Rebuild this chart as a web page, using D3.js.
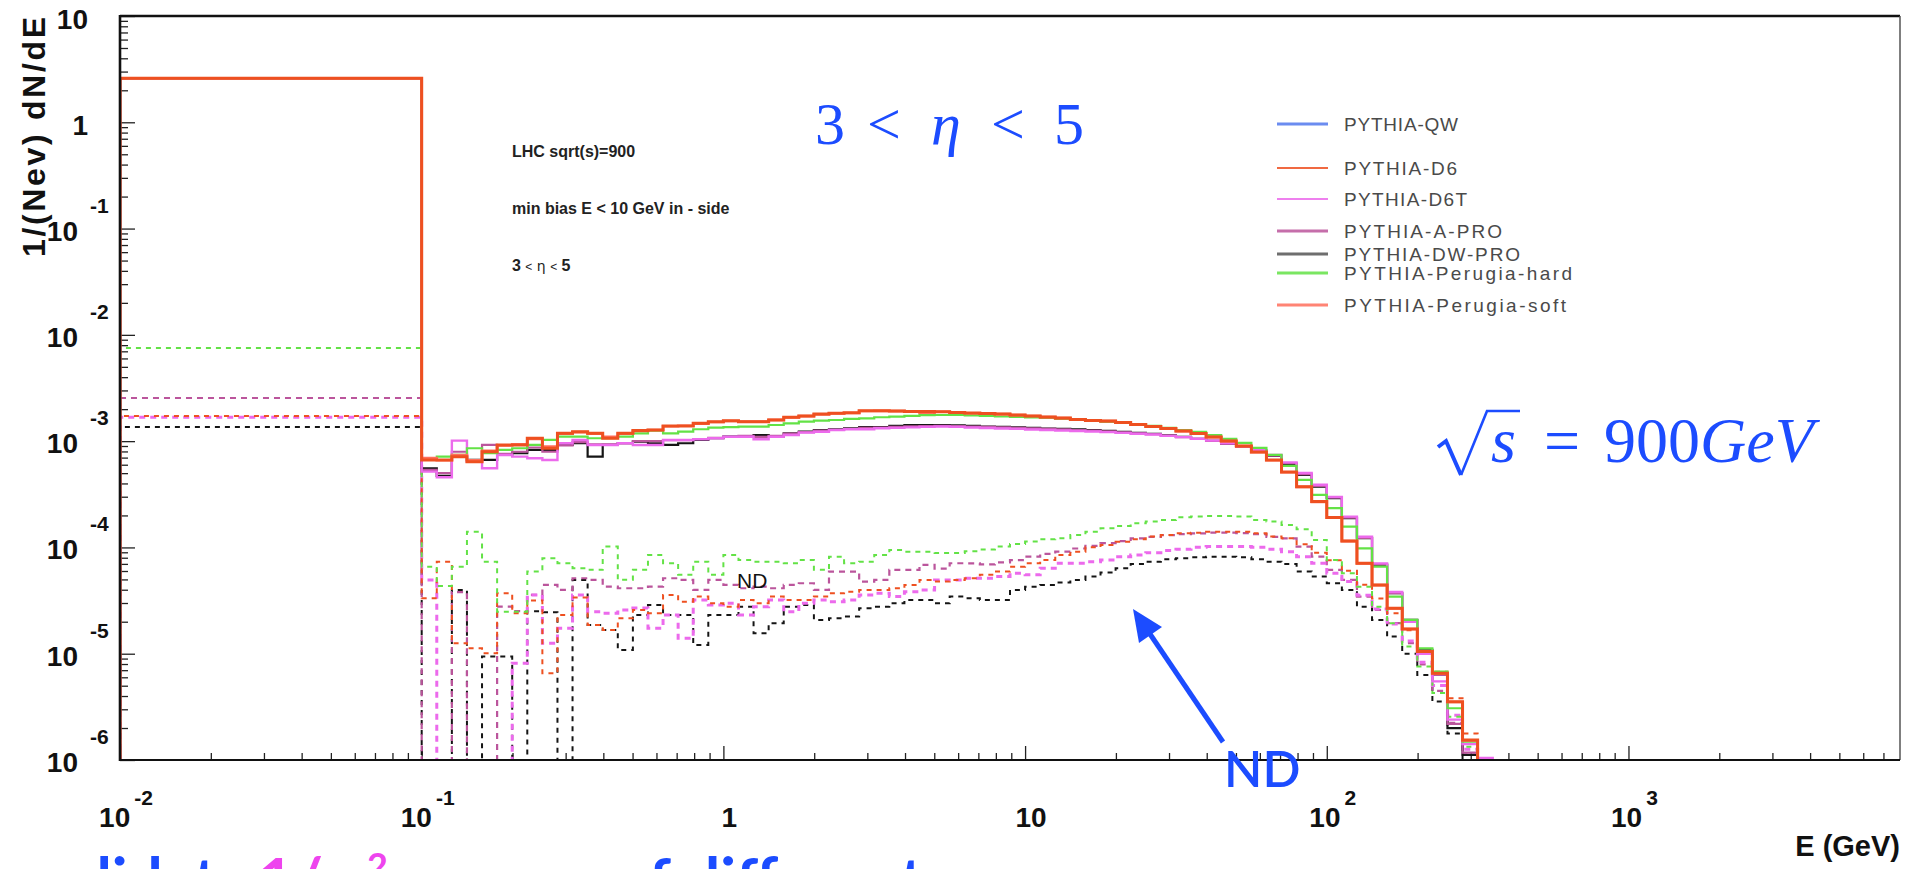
<!DOCTYPE html>
<html><head><meta charset="utf-8">
<script src="https://cdn.jsdelivr.net/npm/d3@7"></script>
<style>
html,body{margin:0;padding:0;background:#fff;}
svg{display:block;}
</style></head><body>
<svg id="chart" width="1910" height="869"></svg>
<script>
// ---------------- DATA ----------------
// bin edges, log10(E / GeV): one wide bin 0.01-0.1, then 20 bins per decade
const binEdgesLog10 = [-2,-1,-0.95,-0.9,-0.85,-0.8,-0.75,-0.7,-0.65,-0.6,-0.55,-0.5,-0.45,-0.4,-0.35,-0.3,-0.25,-0.2,-0.15,-0.1,-0.05,0,0.05,0.1,0.15,0.2,0.25,0.3,0.35,0.4,0.45,0.5,0.55,0.6,0.65,0.7,0.75,0.8,0.85,0.9,0.95,1,1.05,1.1,1.15,1.2,1.25,1.3,1.35,1.4,1.45,1.5,1.55,1.6,1.65,1.7,1.75,1.8,1.85,1.9,1.95,2,2.05,2.1,2.15,2.2,2.25,2.3,2.35,2.4,2.45,2.5,2.55];

// values: log10 of 1/(Nev) dN/dE per bin (null = empty bin)
// min-bias (solid)
const mb_D6 = [0.415,
 -3.177,-3.177,-3.146,-3.193,-3.099,-3.036,-3.036,-2.973,-3.067,-2.926,
 -2.911,-2.926,-2.973,-2.926,-2.901,-2.895,-2.857,-2.857,-2.832,-2.817,
 -2.807,-2.817,-2.817,-2.801,-2.775,-2.763,-2.744,-2.738,-2.732,-2.713,
 -2.713,-2.716,-2.720,-2.722,-2.724,-2.730,-2.735,-2.739,-2.744,-2.754,
 -2.763,-2.773,-2.782,-2.796,-2.805,-2.810,-2.824,-2.843,-2.862,-2.881,
 -2.904,-2.928,-2.960,-2.998,-3.045,-3.102,-3.177,-3.290,-3.428,-3.569,
 -3.718,-3.939,-4.149,-4.353,-4.572,-4.767,-4.980,-5.183,-5.451,-5.811,
 null];
const mb_PerugiaSoft = [0.415,
 -3.160,-3.180,-3.130,-3.180,-3.090,-3.040,-3.030,-2.980,-3.050,-2.930,
 -2.915,-2.930,-2.960,-2.930,-2.905,-2.895,-2.860,-2.855,-2.835,-2.820,
 -2.810,-2.815,-2.815,-2.800,-2.778,-2.765,-2.748,-2.740,-2.735,-2.716,
 -2.715,-2.718,-2.724,-2.733,-2.724,-2.731,-2.737,-2.741,-2.746,-2.755,
 -2.764,-2.774,-2.783,-2.797,-2.806,-2.812,-2.826,-2.845,-2.864,-2.883,
 -2.906,-2.930,-2.962,-3.000,-3.047,-3.105,-3.180,-3.293,-3.430,-3.571,
 -3.720,-3.941,-4.150,-4.355,-4.574,-4.768,-4.982,-5.185,-5.455,-5.815,
 null];
const mb_DWPRO = [0.415,
 -3.255,-3.327,-3.146,-3.177,-3.177,-3.130,-3.114,-3.083,-3.083,-3.036,
 -3.020,-3.146,-3.036,-3.020,-3.005,-3.020,-3.036,-3.020,-2.989,-2.973,
 -2.958,-2.958,-2.942,-2.958,-2.926,-2.911,-2.895,-2.888,-2.879,-2.869,
 -2.869,-2.857,-2.848,-2.848,-2.848,-2.852,-2.857,-2.862,-2.866,-2.871,
 -2.876,-2.881,-2.885,-2.890,-2.895,-2.904,-2.913,-2.923,-2.932,-2.946,
 -2.960,-2.979,-2.998,-3.026,-3.055,-3.092,-3.139,-3.214,-3.318,-3.428,
 -3.537,-3.725,-3.913,-4.165,-4.431,-4.682,-4.964,-5.183,-5.701,-5.952,
 null];
const mb_APRO = [0.415,
 -3.270,-3.300,-3.100,-3.190,-3.036,-3.120,-3.100,-3.060,-3.100,-3.040,
 -3.010,-3.030,-3.030,-3.020,-3.000,-3.000,-2.990,-2.990,-2.980,-2.970,
 -2.960,-2.950,-2.960,-2.950,-2.930,-2.915,-2.900,-2.893,-2.885,-2.875,
 -2.872,-2.865,-2.860,-2.858,-2.855,-2.858,-2.862,-2.866,-2.871,-2.876,
 -2.880,-2.885,-2.890,-2.895,-2.900,-2.908,-2.917,-2.926,-2.935,-2.948,
 -2.962,-2.980,-2.998,-3.024,-3.052,-3.088,-3.135,-3.208,-3.310,-3.420,
 -3.530,-3.720,-3.910,-4.160,-4.430,-4.690,-4.970,-5.200,-5.660,-5.930,
 null];
const mb_D6T = [0.415,
 -3.287,-3.340,-2.995,-3.193,-3.255,-3.130,-3.146,-3.161,-3.177,-3.020,
 -2.989,-3.036,-3.036,-3.020,-3.036,-3.036,-2.989,-2.989,-2.982,-2.973,
 -2.958,-2.958,-2.982,-2.958,-2.942,-2.920,-2.911,-2.895,-2.888,-2.888,
 -2.879,-2.875,-2.870,-2.866,-2.862,-2.866,-2.871,-2.876,-2.881,-2.885,
 -2.890,-2.895,-2.900,-2.904,-2.909,-2.915,-2.922,-2.930,-2.938,-2.950,
 -2.962,-2.978,-2.995,-3.020,-3.048,-3.085,-3.130,-3.200,-3.300,-3.410,
 -3.525,-3.710,-3.900,-4.150,-4.420,-4.700,-5.000,-5.260,-5.620,-5.850,
 -5.980];
const mb_PerugiaHard = [0.415,
 -3.161,-3.146,-3.130,-3.067,-3.114,-3.083,-3.067,-3.036,-2.989,-2.958,
 -2.958,-2.973,-2.973,-2.958,-2.926,-2.901,-2.926,-2.911,-2.888,-2.873,
 -2.869,-2.864,-2.864,-2.848,-2.832,-2.817,-2.807,-2.801,-2.791,-2.785,
 -2.775,-2.770,-2.763,-2.756,-2.754,-2.754,-2.758,-2.763,-2.768,-2.773,
 -2.777,-2.782,-2.791,-2.801,-2.810,-2.819,-2.829,-2.843,-2.857,-2.876,
 -2.895,-2.913,-2.942,-2.979,-3.017,-3.064,-3.130,-3.233,-3.365,-3.506,
 -3.631,-3.804,-4.008,-4.181,-4.463,-4.682,-4.949,-5.168,-5.513,-5.827,
 null];

// non-diffractive (dashed)
const nd_PerugiaHard = [-2.123,
 -4.181,-4.362,-4.181,-3.852,-4.134,-4.604,-4.604,-4.227,-4.101,-4.148,
 -4.195,-4.211,-3.992,-4.305,-4.211,-4.071,-4.148,-4.258,-4.134,-4.258,
 -4.071,-4.118,-4.134,-4.134,-4.148,-4.118,-4.211,-4.087,-4.148,-4.134,
 -4.071,-4.024,-4.040,-4.040,-4.052,-4.052,-4.036,-4.020,-3.992,-3.967,
 -3.945,-3.923,-3.914,-3.883,-3.852,-3.820,-3.798,-3.772,-3.757,-3.741,
 -3.716,-3.710,-3.704,-3.704,-3.710,-3.741,-3.757,-3.790,-3.830,-3.930,
 -4.118,-4.243,-4.369,-4.557,-4.713,-4.933,-5.121,-5.370,-5.593,-5.875,
 null];
const nd_D6 = [-2.763,
 -4.478,-4.134,-4.901,-4.948,-4.995,-4.431,-4.619,-4.500,-5.183,-4.635,
 -4.470,-4.730,-4.776,-4.666,-4.588,-4.619,-4.447,-4.510,-4.462,-4.525,
 -4.557,-4.494,-4.525,-4.462,-4.494,-4.494,-4.462,-4.431,-4.416,-4.400,
 -4.400,-4.384,-4.353,-4.306,-4.321,-4.306,-4.290,-4.258,-4.227,-4.181,
 -4.149,-4.118,-4.071,-4.040,-3.999,-3.977,-3.946,-3.924,-3.898,-3.883,
 -3.867,-3.861,-3.852,-3.852,-3.852,-3.867,-3.898,-3.914,-3.970,-4.050,
 -4.120,-4.220,-4.350,-4.480,-4.620,-4.780,-4.970,-5.170,-5.420,-5.750,
 null];
const nd_D6T = [-2.775,
 -4.306,null,null,null,null,null,-5.090,-4.447,-4.901,-4.760,
 -4.447,-4.604,-4.619,-4.588,-4.570,-4.760,-4.635,-4.854,-4.494,-4.541,
 -4.525,-4.635,-4.557,-4.494,-4.604,-4.525,-4.494,-4.510,-4.494,-4.447,
 -4.431,-4.462,-4.416,-4.400,-4.306,-4.306,-4.290,-4.290,-4.274,-4.243,
 -4.258,-4.196,-4.149,-4.149,-4.134,-4.118,-4.087,-4.071,-4.049,-4.030,
 -4.017,-3.999,-3.992,-3.992,-3.992,-3.999,-4.017,-4.040,-4.087,-4.149,
 -4.243,-4.321,-4.450,-4.580,-4.720,-4.880,-5.080,-5.300,-5.580,-5.900,
 null];
const nd_APRO = [-2.594,
 null,null,-4.420,null,null,-4.557,-4.600,-4.447,-4.353,-4.400,
 -4.290,-4.306,-4.369,-4.384,-4.384,-4.369,-4.290,-4.306,-4.400,-4.306,
 -4.353,-4.384,-4.369,-4.384,-4.353,-4.337,-4.400,-4.227,-4.227,-4.321,
 -4.306,-4.211,-4.211,-4.165,-4.200,-4.149,-4.150,-4.160,-4.140,-4.120,
 -4.087,-4.060,-4.040,-4.010,-3.985,-3.960,-3.940,-3.914,-3.900,-3.885,
 -3.874,-3.868,-3.861,-3.861,-3.866,-3.874,-3.900,-3.914,-3.992,-4.087,
 -4.211,-4.306,-4.462,-4.588,-4.713,-4.900,-5.100,-5.350,-5.650,-5.950,
 null];
const nd_DWPRO = [-2.866,
 null,null,-4.400,null,-5.027,-5.027,null,-4.600,-4.610,null,
 -4.306,-4.730,-4.776,-4.964,-4.635,-4.541,-4.635,-4.635,-4.917,-4.635,
 -4.635,-4.557,-4.807,-4.713,-4.557,-4.541,-4.682,-4.666,-4.651,-4.572,
 -4.557,-4.525,-4.494,-4.494,-4.525,-4.462,-4.478,-4.494,-4.494,-4.400,
 -4.369,-4.353,-4.331,-4.306,-4.274,-4.237,-4.196,-4.156,-4.134,-4.112,
 -4.102,-4.093,-4.087,-4.087,-4.093,-4.112,-4.134,-4.156,-4.227,-4.274,
 -4.337,-4.400,-4.557,-4.682,-4.839,-5.000,-5.200,-5.450,-5.750,null,
 null];

const legendNames = ["PYTHIA-QW","PYTHIA-D6","PYTHIA-D6T","PYTHIA-A-PRO","PYTHIA-DW-PRO","PYTHIA-Perugia-hard","PYTHIA-Perugia-soft"];
const xTickBase = ["10","10","1","10","10","10"];
const xTickExp  = ["-2","-1","","","2","3"];
const xTickVals = [1e-2,1e-1,1,10,100,1000];
const yTickBase = ["10","10","10","10","10","10","1","10"];
const yTickExp  = ["-6","-5","-4","-3","-2","-1","",""];
const yTickVals = [1e-6,1e-5,1e-4,1e-3,1e-2,1e-1,1,10];
const infoLines = ["LHC sqrt(s)=900","min bias E < 10 GeV in - side"];

// ---------------- STYLE / LAYOUT ----------------
const colors = {QW:"#5279ee", D6:"#ee5020", D6T:"#ec6aec", APRO:"#bb559c", DWPRO:"#151515", PHard:"#63e246", PSoft:"#ff6f5c"};
const legendColors = [colors.QW, colors.D6, colors.D6T, colors.APRO, "#555555", colors.PHard, colors.PSoft];
const legendWidths = [3,2,2,3,3,3,3];
const legendRowY = [124,168,199,231,254,273,305];
const legendTextLen = [114,113,123,158,176,228,222];
const blue = "#1c4cff";

const svg = d3.select("#chart");
svg.append("rect").attr("width",1910).attr("height",869).attr("fill","#fff");

const x = d3.scaleLog().domain([0.01, Math.pow(10,3.9)]).range([120,1900]);
const y = d3.scaleLog().domain([1e-6, 10]).range([760,16]);
const [X0,X1] = x.range(); const [Y0,Y1] = y.range();

svg.append("defs").append("clipPath").attr("id","plotclip")
  .append("rect").attr("x",X0).attr("y",Y1).attr("width",X1-X0).attr("height",Y0-Y1);

// ---------------- TICKS ----------------
const xMinor = [], yMinor = [];
for (let e=-2; e<=3; e++) for (let m=2; m<=9; m++){ const v=m*Math.pow(10,e); if (v < x.domain()[1]) xMinor.push(v); }
for (let e=-6; e<=0; e++) for (let m=2; m<=9; m++) yMinor.push(m*Math.pow(10,e));

function styleAxis(g){ g.select(".domain").remove(); g.selectAll(".tick line").attr("stroke","#222").attr("stroke-width",1.3); }
svg.append("g").attr("transform",`translate(0,${Y0})`).call(d3.axisBottom(x).tickValues(xMinor).tickSize(-7).tickFormat("")).call(styleAxis);
svg.append("g").attr("transform",`translate(0,${Y0})`).call(d3.axisBottom(x).tickValues(xTickVals).tickSize(-14).tickFormat("")).call(styleAxis);
svg.append("g").attr("transform",`translate(${X0},0)`).call(d3.axisLeft(y).tickValues(yMinor).tickSize(-8).tickFormat("")).call(styleAxis);
svg.append("g").attr("transform",`translate(${X0},0)`).call(d3.axisLeft(y).tickValues(yTickVals).tickSize(-15).tickFormat("")).call(styleAxis);

// ---------------- HISTOGRAMS ----------------
const plot = svg.append("g").attr("clip-path","url(#plotclip)");
function stepPath(vals){
  const yb = Y0 + 12;
  const yv = v => v === null ? yb : y(Math.pow(10, v));
  let d = `M${x(Math.pow(10,binEdgesLog10[0]))},${yb}`;
  vals.forEach((v,i)=>{
    const xa = x(Math.pow(10,binEdgesLog10[i])), xb = x(Math.pow(10,binEdgesLog10[i+1]));
    const yy = yv(v);
    d += `L${xa},${yy}L${xb},${yy}`;
  });
  d += `L${x(Math.pow(10,binEdgesLog10[vals.length]))},${yb}`;
  return d;
}
const dashedSeries = [
  {vals:nd_DWPRO, color:colors.DWPRO, w:2, dash:"5,5"},
  {vals:nd_APRO, color:colors.APRO, w:2.2, dash:"6,5"},
  {vals:nd_D6T, color:colors.D6T, w:3, dash:"6,5"},
  {vals:nd_D6, color:colors.D6, w:2, dash:"5,5"},
  {vals:nd_PerugiaHard, color:colors.PHard, w:2, dash:"5,5"}
];
const solidSeries = [
  {vals:mb_DWPRO, color:colors.DWPRO, w:2.2},
  {vals:mb_APRO, color:colors.APRO, w:2.2},
  {vals:mb_D6T, color:colors.D6T, w:2.4},
  {vals:mb_PerugiaHard, color:colors.PHard, w:2.2},
  {vals:mb_PerugiaSoft, color:colors.PSoft, w:2.6},
  {vals:mb_D6, color:colors.D6, w:3}
];
plot.selectAll("path.nd").data(dashedSeries).join("path").attr("class","nd")
  .attr("d",s=>stepPath(s.vals)).attr("fill","none").attr("stroke",s=>s.color)
  .attr("stroke-width",s=>s.w).attr("stroke-dasharray",s=>s.dash).attr("stroke-linejoin","miter");
plot.selectAll("path.mb").data(solidSeries).join("path").attr("class","mb")
  .attr("d",s=>stepPath(s.vals)).attr("fill","none").attr("stroke",s=>s.color)
  .attr("stroke-width",s=>s.w).attr("stroke-linejoin","miter");

// ---------------- FRAME ----------------
svg.append("line").attr("x1",X0).attr("x2",X1).attr("y1",Y1).attr("y2",Y1).attr("stroke","#111").attr("stroke-width",2.6);
svg.append("line").attr("x1",X1).attr("x2",X1).attr("y1",Y1).attr("y2",Y0).attr("stroke","#555").attr("stroke-width",1.5);
svg.append("line").attr("x1",X0).attr("x2",X1).attr("y1",Y0).attr("y2",Y0).attr("stroke","#111").attr("stroke-width",2.2);
svg.append("line").attr("x1",X0).attr("x2",X0).attr("y1",Y1-1).attr("y2",Y0+1).attr("stroke","#111").attr("stroke-width",2.6);

// ---------------- TICK LABELS ----------------
const lab = "'Liberation Sans', Arial, sans-serif";
xTickVals.forEach((v,i)=>{
  const t = svg.append("text").attr("x",x(v)+6).attr("y",827).attr("text-anchor","middle")
    .attr("font-family",lab).attr("font-weight","bold").attr("font-size",28).attr("fill","#111");
  t.append("tspan").text(xTickBase[i]);
  if (xTickExp[i]) t.append("tspan").attr("dx",4).attr("dy",-22).attr("font-size",21).text(xTickExp[i]);
});
yTickVals.forEach((v,i)=>{
  const yy = y(v);
  if (yTickExp[i]){
    svg.append("text").attr("x",78).attr("y",yy+12).attr("text-anchor","end")
      .attr("font-family",lab).attr("font-weight","bold").attr("font-size",28).attr("fill","#111").text(yTickBase[i]);
    svg.append("text").attr("x",90).attr("y",yy-16).attr("text-anchor","start")
      .attr("font-family",lab).attr("font-weight","bold").attr("font-size",21).attr("fill","#111").text(yTickExp[i]);
  } else {
    svg.append("text").attr("x",88).attr("y",yy+13).attr("text-anchor","end")
      .attr("font-family",lab).attr("font-weight","bold").attr("font-size",28).attr("fill","#111").text(yTickBase[i]);
  }
});
svg.append("text").attr("transform","translate(45,17) rotate(-90)").attr("text-anchor","end")
  .attr("font-family",lab).attr("font-weight","bold").attr("font-size",32).attr("fill","#111")
  .attr("textLength",240).attr("lengthAdjust","spacing").text("1/(Nev) dN/dE");
svg.append("text").attr("x",1900).attr("y",856).attr("text-anchor","end")
  .attr("font-family",lab).attr("font-weight","bold").attr("font-size",29).attr("fill","#111").text("E (GeV)");

// ---------------- INFO TEXT ----------------
[157,214].forEach((yy,i)=>{
  svg.append("text").attr("x",512).attr("y",yy).attr("font-family",lab).attr("font-weight","bold")
    .attr("font-size",16).attr("fill","#222").text(infoLines[i]);
});
{
  const t = svg.append("text").attr("x",512).attr("y",271).attr("font-family",lab).attr("font-weight","bold")
    .attr("font-size",16).attr("fill","#222");
  t.append("tspan").text("3 ");
  t.append("tspan").attr("font-size",12).attr("font-weight","normal").text("<");
  t.append("tspan").attr("font-weight","normal").attr("font-family","'DejaVu Sans'").attr("font-size",14).text(" η ");
  t.append("tspan").attr("font-size",12).attr("font-weight","normal").text("<");
  t.append("tspan").text(" 5");
}
svg.append("text").attr("x",737).attr("y",588).attr("font-family",lab).attr("font-size",21).attr("fill","#111").text("ND");

// ---------------- LEGEND ----------------
legendNames.forEach((n,i)=>{
  svg.append("line").attr("x1",1277).attr("x2",1328).attr("y1",legendRowY[i]).attr("y2",legendRowY[i])
    .attr("stroke",legendColors[i]).attr("stroke-width",legendWidths[i]).attr("opacity",0.85);
  svg.append("text").attr("x",1344).attr("y",legendRowY[i]+7).attr("font-family",lab).attr("font-size",19)
    .attr("textLength",legendTextLen[i]).attr("lengthAdjust","spacing").attr("fill","#4a4a4a").text(n);
});

// ---------------- BLUE ANNOTATIONS ----------------
const serif = "'Liberation Serif', 'DejaVu Serif', serif";
const etaGlyphs = [["3",830,"normal"],["<",884,"normal"],["η",946,"italic"],["<",1008,"normal"],["5",1069,"normal"]];
etaGlyphs.forEach(g=>{
  svg.append("text").attr("x",g[1]).attr("y",144).attr("text-anchor","middle").attr("font-family",serif)
    .attr("font-style",g[2]).attr("font-size",60).attr("fill",blue).text(g[0]);
});
svg.append("path").attr("d","M1438,447 L1446,441 L1461,475").attr("fill","none").attr("stroke",blue).attr("stroke-width",4).attr("stroke-linejoin","miter");
svg.append("path").attr("d","M1461,475 L1487,411 L1520,411").attr("fill","none").attr("stroke",blue).attr("stroke-width",2.6);
svg.append("text").attr("x",1491).attr("y",462).attr("font-family",serif).attr("font-style","italic").attr("font-size",64).attr("fill",blue).text("s");
svg.append("text").attr("x",1562).attr("y",462).attr("text-anchor","middle").attr("font-family",serif).attr("font-size",64).attr("fill",blue).text("=");
{
  const t = svg.append("text").attr("x",1604).attr("y",462).attr("font-family",serif).attr("font-size",64).attr("fill",blue);
  t.append("tspan").text("900");
  t.append("tspan").attr("font-style","italic").text("GeV");
}
// arrow
svg.append("line").attr("x1",1223).attr("y1",742).attr("x2",1150).attr("y2",634).attr("stroke",blue).attr("stroke-width",5);
svg.append("path").attr("d","M1133,609 L1162,627 L1139,643 Z").attr("fill",blue);
svg.append("text").attr("x",1224).attr("y",787).attr("font-family","Lato, 'Open Sans', sans-serif").attr("font-weight",600).attr("font-size",50).attr("fill",blue).text("ND");

// cut-off caption at the bottom edge
const cap = "Lato, 'Open Sans', sans-serif";
svg.append("text").attr("x",33).attr("y",902).attr("font-family",cap).attr("font-weight","bold").attr("font-size",62).attr("fill",blue).text("validate");
{
  const t = svg.append("text").attr("x",258).attr("y",902).attr("font-family",cap).attr("font-weight","bold").attr("font-size",62).attr("fill","#ee44ee");
  t.append("tspan").text("1/");
  t.append("tspan").attr("font-family",serif).attr("font-style","italic").attr("dx",6).text("η");
  t.append("tspan").attr("dy",-23).attr("dx",4).attr("font-size",36).text("2");
}
svg.append("text").attr("x",614).attr("y",902).attr("font-family",cap).attr("font-weight","bold").attr("font-size",62).attr("fill",blue).text("of different");
</script>
</body></html>
